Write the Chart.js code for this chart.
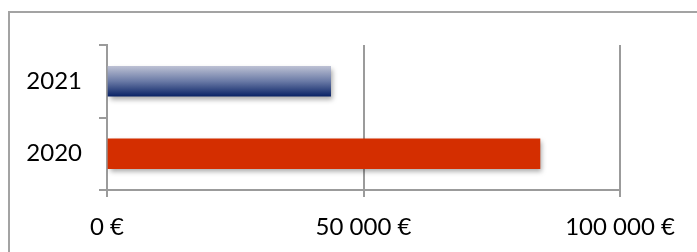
<!DOCTYPE html>
<html>
<head>
<meta charset="utf-8">
<script src="https://cdn.jsdelivr.net/npm/chart.js@4/dist/chart.umd.min.js"></script>
<style>
  html, body { margin: 0; padding: 0; background: #fff; overflow: hidden; }
  #frame { position: absolute; left: 8px; top: 11px; width: 720px; height: 280px; border: 2px solid #a3a3a3; box-sizing: border-box; }
  #wrap { position: absolute; left: 0; top: 0; width: 697px; height: 252px; }
</style>
</head>
<body>
<div id="frame"></div>
<div id="wrap"><canvas id="barChart" width="697" height="252"></canvas></div>
<script>
const years = ['2021', '2020'];
const amounts = [43600, 84400];
const xTicks = [0, 50000, 100000];

const gridGray = '#9b9b9b';

// soft drop shadow under the bars
const shadowPlugin = {
    id: 'barShadow',
    beforeDatasetDraw(chart) {
        const ctx = chart.ctx;
        ctx.save();
        ctx.shadowColor = 'rgba(0, 0, 0, 0.35)';
        ctx.shadowBlur = 5;
        ctx.shadowOffsetX = 2;
        ctx.shadowOffsetY = 3;
    },
    afterDatasetDraw(chart) {
        chart.ctx.restore();
    }
};

function barColor(context) {
    if (context.dataIndex === 1) {
        return '#d42e00';
    }
    const chart = context.chart;
    const yScale = chart.scales.y;
    if (!yScale) return '#2a3f7e';
    const mid = yScale.getPixelForValue(context.dataIndex);
    if (!isFinite(mid)) return '#2a3f7e';
    const g = chart.ctx.createLinearGradient(0, mid - 15, 0, mid + 15);
    g.addColorStop(0, '#bcc0d3');
    g.addColorStop(0.5, '#6a7aa6');
    g.addColorStop(1, '#0a2366');
    return g;
}

function euro(value) {
    return String(value).replace(/\B(?=(\d{3})+(?!\d))/g, ' ') + ' €';
}

const ctx = document.querySelector('#barChart').getContext('2d');
new Chart(ctx, {
    type: 'bar',
    data: {
        labels: years,
        datasets: [{
            data: amounts,
            backgroundColor: barColor,
            borderWidth: 0,
            barThickness: 30
        }]
    },
    options: {
        responsive: false,
        animation: false,
        indexAxis: 'y',
        layout: { padding: { left: 0, top: 45, right: 77, bottom: 0 } },
        plugins: {
            legend: { display: false },
            tooltip: { enabled: false }
        },
        scales: {
            x: {
                min: 0,
                max: 100000,
                afterBuildTicks(axis) {
                    axis.ticks = xTicks.map(v => ({ value: v }));
                },
                afterFit(axis) { axis.height = 62; },
                grid: { color: gridGray, lineWidth: 2, tickLength: 7 },
                border: { color: gridGray, width: 2 },
                ticks: {
                    color: '#000',
                    font: { family: 'Lato', size: 24 },
                    padding: 16,
                    maxRotation: 0,
                    callback: (value) => euro(value)
                }
            },
            y: {
                afterFit(axis) { axis.width = 107; },
                grid: { offset: true, drawOnChartArea: false, color: gridGray, lineWidth: 2, tickLength: 8 },
                border: { color: gridGray, width: 2 },
                ticks: {
                    color: '#000',
                    font: { family: 'Lato', size: 24 },
                    padding: 17
                }
            }
        }
    },
    plugins: [shadowPlugin]
});
</script>
</body>
</html>
